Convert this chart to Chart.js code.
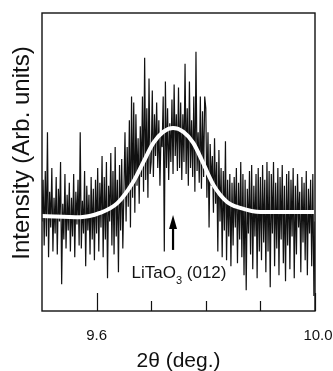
<!DOCTYPE html>
<html>
<head>
<meta charset="utf-8">
<script src="https://cdn.jsdelivr.net/npm/chart.js@4.4.1/dist/chart.umd.min.js"></script>
<style>
  html, body { margin: 0; padding: 0; background: #fff; }
  canvas { display: block; }
</style>
</head>
<body>
<canvas id="xrd" width="333" height="371"></canvas>
<script>
// ===== XRD scan: LiTaO3 (012) reflection =====

// scan grid (deg.)
const scanStart = 9.5;
const scanStep = 0.002;

const intensity = [
  30, 44, 22, 47, 25, 60, 18, 40, 28, 48, 20, 38, 26, 45, 19, 41, 30, 50, 9, 36, 24, 46, 21, 39, 27,
  43, 20, 38, 25, 46, 18, 40, 29, 44, 22, 60, 21, 37, 26, 47, 15, 42, 27, 39, 19, 45, 24, 41, 17, 44,
  26, 48, 20, 43, 28, 52, 18, 45, 24, 50, 11, 42, 30, 53, 22, 47, 19, 55, 25, 44, 13, 49, 27, 51, 21,
  40, 60, 30, 55, 35, 64, 28, 72, 38, 70, 33, 66, 42, 58, 36, 62, 45, 72, 40, 85, 44, 68, 38, 78, 46,
  50, 74, 45, 66, 52, 70, 48, 64, 42, 60, 55, 72, 20, 77, 48, 68, 44, 63, 50, 71, 46, 76, 52, 66, 47,
  75, 48, 70, 44, 66, 50, 83, 46, 68, 42, 77, 48, 64, 45, 72, 40, 87, 47, 60, 43, 72, 41, 67, 45, 72,
  68, 38, 60, 28, 56, 42, 52, 33, 58, 36, 50, 20, 54, 30, 48, 18, 47, 27, 57, 17, 44, 25, 46, 15, 43,
  22, 45, 28, 48, 16, 43, 24, 50, 18, 46, 12, 44, 7, 41, 26, 47, 19, 49, 14, 42, 25, 46, 11, 48, 20,
  45, 17, 49, 23, 44, 13, 50, 20, 47, 8, 46, 26, 50, 15, 43, 21, 48, 12, 45, 24, 49, 16, 42, 10, 46,
  22, 47, 14, 44, 25, 48, 11, 42, 19, 46, 28, 40, 13, 45, 23, 43, 17, 47, 12, 41, 26, 44, 15, 46, 5, 30
];

// fitted peak profile (white curve)
const fitAngle = [9.50, 9.57, 9.606, 9.638, 9.667, 9.685, 9.704, 9.722, 9.740, 9.759, 9.777, 9.795, 9.814, 9.839, 9.863, 9.900, 10.0];
const fitValue = [31.9, 31.5, 32.9, 36.2, 43.3, 49.7, 56.4, 60.1, 61.4, 60.1, 56.4, 49.7, 42.3, 36.6, 34.6, 33.2, 33.2];

// axis ticks
const majorTicks = [9.6, 10.0];
const majorLabels = ['9.6', '10.0'];
const minorTicks = [9.7, 9.8, 9.9];

// peak marker
const peakAngle = 9.74;
const arrowFrom = 20.5;
const arrowTo = 32.2;

const scanData = intensity.map((v, i) => ({ x: +(scanStart + i * scanStep).toFixed(3), y: v }));
const fitData = fitAngle.map((a, i) => ({ x: a, y: fitValue[i] }));

const FONT = '"Liberation Sans", Arial, Helvetica, sans-serif';

const framePlugin = {
    id: 'frame',
    afterDraw(chart) {
        const { ctx, chartArea: a, scales: { x, y } } = chart;
        ctx.save();

        // box
        ctx.strokeStyle = '#111';
        ctx.lineWidth = 1.4;
        ctx.strokeRect(a.left, a.top, a.right - a.left, a.bottom - a.top);

        // inward ticks
        ctx.lineWidth = 1.2;
        ctx.beginPath();
        majorTicks.forEach(v => {
            const px = Math.round(x.getPixelForValue(v)) + 0.5;
            ctx.moveTo(px, a.bottom); ctx.lineTo(px, a.bottom - 18);
        });
        minorTicks.forEach(v => {
            const px = Math.round(x.getPixelForValue(v)) + 0.5;
            ctx.moveTo(px, a.bottom); ctx.lineTo(px, a.bottom - 10);
        });
        ctx.stroke();

        // tick labels
        ctx.fillStyle = '#111';
        ctx.font = '15px ' + FONT;
        ctx.textAlign = 'center';
        ctx.textBaseline = 'alphabetic';
        majorTicks.forEach((v, i) => ctx.fillText(majorLabels[i], x.getPixelForValue(v) + (i === 1 ? 3 : 0), 340));

        // x title
        ctx.font = '21px ' + FONT;
        ctx.fillText('2\u03B8 (deg.)', (a.left + a.right) / 2, 367);

        // y title
        ctx.save();
        ctx.translate(29, 153);
        ctx.rotate(-Math.PI / 2);
        ctx.font = '24px ' + FONT;
        ctx.fillText('Intensity (Arb. units)', 0, 0);
        ctx.restore();

        // arrow
        const ax = x.getPixelForValue(peakAngle);
        const yTop = y.getPixelForValue(arrowTo);
        const yBot = y.getPixelForValue(arrowFrom);
        ctx.strokeStyle = '#000';
        ctx.lineWidth = 2.2;
        ctx.beginPath();
        ctx.moveTo(ax, yBot); ctx.lineTo(ax, yTop + 8);
        ctx.stroke();
        ctx.fillStyle = '#000';
        ctx.beginPath();
        ctx.moveTo(ax, yTop);
        ctx.lineTo(ax - 4, yTop + 14);
        ctx.lineTo(ax + 4, yTop + 14);
        ctx.closePath();
        ctx.fill();

        // peak label with subscript
        ctx.fillStyle = '#111';
        ctx.textAlign = 'left';
        const main1 = 'LiTaO', sub = '3', main2 = ' (012)';
        ctx.font = '17px ' + FONT;
        const w1 = ctx.measureText(main1).width;
        const w3 = ctx.measureText(main2).width;
        ctx.font = '11px ' + FONT;
        const w2 = ctx.measureText(sub).width;
        let tx = 179 - (w1 + w2 + w3) / 2;
        ctx.font = '17px ' + FONT;
        ctx.fillText(main1, tx, 278);
        ctx.font = '11px ' + FONT;
        ctx.fillText(sub, tx + w1, 284);
        ctx.font = '17px ' + FONT;
        ctx.fillText(main2, tx + w1 + w2, 278);

        ctx.restore();
    }
};

new Chart(document.getElementById('xrd').getContext('2d'), {
    type: 'line',
    data: {
        datasets: [
            { label: 'fit', data: fitData, order: 0, borderColor: '#fff', borderWidth: 4,
              pointRadius: 0, tension: 0.4, cubicInterpolationMode: 'monotone', fill: false },
            { label: 'scan', data: scanData, order: 1, borderColor: '#111', borderWidth: 1.2,
              pointRadius: 0, tension: 0, fill: false }
        ]
    },
    options: {
        responsive: false,
        animation: false,
        layout: { padding: { left: 42, right: 18, top: 13, bottom: 60 } },
        scales: {
            x: { type: 'linear', min: 9.5, max: 10.0, display: false },
            y: { min: 0, max: 100, display: false }
        },
        plugins: { legend: { display: false }, tooltip: { enabled: false } }
    },
    plugins: [framePlugin]
});
</script>
</body>
</html>
